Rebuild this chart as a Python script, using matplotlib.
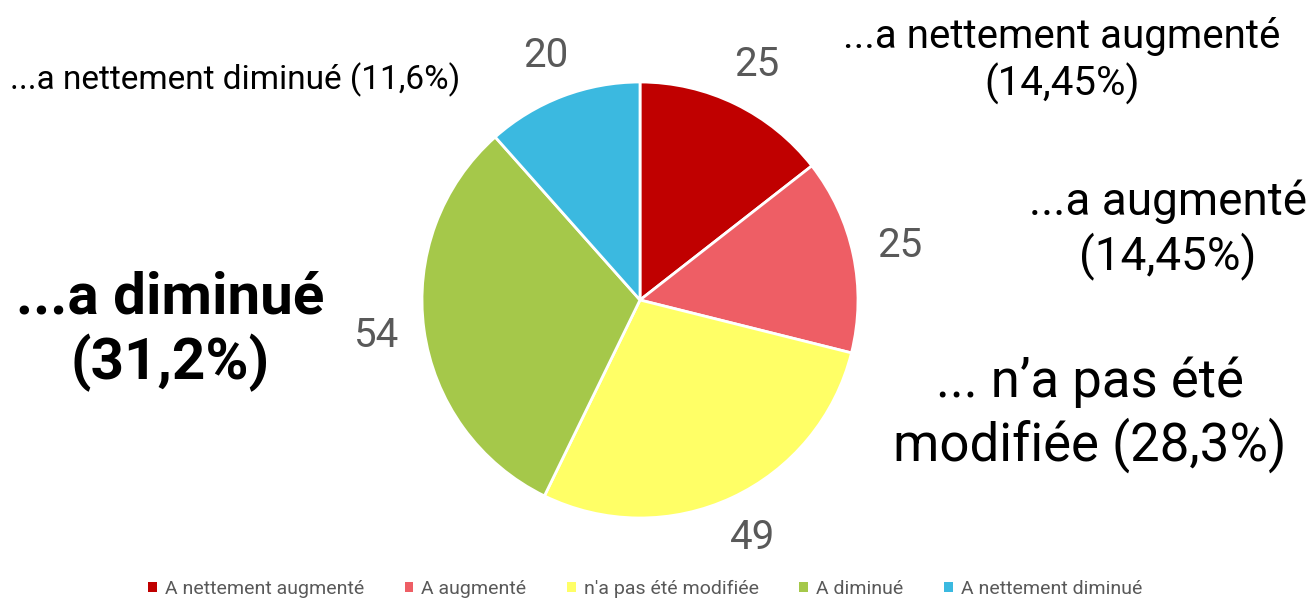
import numpy as np
import matplotlib.pyplot as plt
from matplotlib.patches import Patch

# Données
categories = ['A nettement augmenté', 'A augmenté', "n'a pas été modifiée",
              'A diminué', 'A nettement diminué']
valeurs = [25, 25, 49, 54, 20]
couleurs = ['#C00000', '#EE5E65', '#FFFF66', '#A5C84A', '#3BB9E0']
etiquettes = ['...a nettement augmenté\n(14,45%)', '...a augmenté\n(14,45%)',
              '... n\u2019a pas été\nmodifiée (28,3%)', '...a diminué\n(31,2%)',
              '...a nettement diminué (11,6%)']

plt.rcParams['font.family'] = ['Roboto', 'DejaVu Sans']

W, H = 1316, 599
fig = plt.figure(figsize=(W / 100, H / 100), dpi=100)

# camembert centré vers (640, 300) px, rayon 218 px
cx, cy, r = 640, 300, 218
ax = fig.add_axes([(cx - r) / W, (H - cy - r) / H, 2 * r / W, 2 * r / H])
wedges, _ = ax.pie(valeurs, colors=couleurs, startangle=90, counterclock=False,
                   radius=1, wedgeprops=dict(edgecolor='white', linewidth=2))
ax.set_xlim(-1, 1)
ax.set_ylim(-1, 1)
ax.set_aspect('equal')
ax.axis('off')

# valeurs autour du camembert
for w, v in zip(wedges, valeurs):
    ang = np.deg2rad((w.theta1 + w.theta2) / 2)
    ax.text(1.22 * np.cos(ang), 1.2 * np.sin(ang), str(v), ha='center', va='center',
            fontsize=29, color='#595959', clip_on=False)


def px(x, y):
    return x / W, 1 - y / H


# étiquettes des catégories
fig.text(*px(1062, 61), etiquettes[0], ha='center', va='center', fontsize=29,
         linespacing=1.22)
fig.text(*px(1168, 230), etiquettes[1], ha='center', va='center', fontsize=33,
         linespacing=1.22)
fig.text(*px(1090, 415), etiquettes[2], ha='center', va='center', fontsize=38,
         linespacing=1.22)
fig.text(*px(170, 331), etiquettes[3], ha='center', va='center', fontsize=42,
         fontweight='bold', linespacing=1.18)
fig.text(*px(10, 80), etiquettes[4], ha='left', va='center', fontsize=24)

# légende
poignees = [Patch(facecolor=c, label=l) for c, l in zip(couleurs, categories)]
leg = fig.legend(handles=poignees, loc='center', bbox_to_anchor=(645 / W, 1 - 589 / H),
                 ncol=5, frameon=False, fontsize=14, handlelength=0.45, handleheight=0.45,
                 handletextpad=0.4, columnspacing=2.1)
for t in leg.get_texts():
    t.set_color('#595959')

fig.savefig('out.png', dpi=100)
